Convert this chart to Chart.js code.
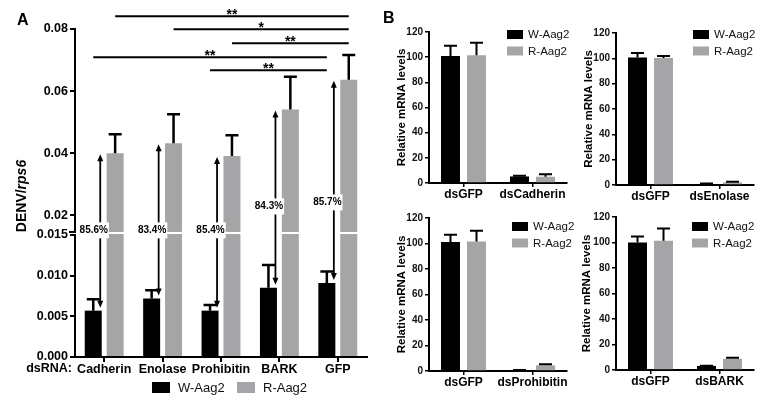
<!DOCTYPE html>
<html>
<head>
<meta charset="utf-8">
<script src="https://cdn.jsdelivr.net/npm/chart.js@4.4.0/dist/chart.umd.min.js"></script>
<style>
  html, body { margin: 0; padding: 0; background: #fff; }
  #wrap { position: relative; width: 767px; height: 405px; overflow: hidden; font-family: "Liberation Sans", Arial, sans-serif; }
  canvas { position: absolute; }
  .tag { position: absolute; font-weight: bold; font-size: 16px; color: #000; }
</style>
</head>
<body>
<div id="wrap">
  <canvas id="chartA" width="380" height="405" style="left:0;top:0"></canvas>
  <canvas id="chartCad" width="190" height="200" style="left:380px;top:0"></canvas>
  <canvas id="chartPro" width="200" height="205" style="left:380px;top:200px"></canvas>
  <canvas id="chartEno" width="197" height="200" style="left:570px;top:0"></canvas>
  <canvas id="chartBark" width="197" height="205" style="left:570px;top:200px"></canvas>
  <div class="tag" style="left:17px;top:11px">A</div>
  <div class="tag" style="left:383px;top:9px">B</div>
</div>
<script>
// panel A: DENV/rps6 after dsRNA knockdown
const genes = ["Cadherin", "Enolase", "Prohibitin", "BARK", "GFP"];
const wAag2 = [0.0057, 0.0072, 0.0057, 0.0085, 0.0091];
const wAag2Err = [0.0014, 0.0010, 0.0007, 0.0028, 0.0014];
const rAag2 = [0.0400, 0.0432, 0.0391, 0.0541, 0.0637];
const rAag2Err = [0.0061, 0.0094, 0.0067, 0.0105, 0.0079];
const reduction = ["85.6%", "83.4%", "85.4%", "84.3%", "85.7%"];
const reductionAt = [0.0152, 0.0152, 0.0152, 0.0229, 0.0242];
const lowTicks = [0, 0.005, 0.010, 0.015];
const highTicks = [0.02, 0.04, 0.06, 0.08];

// significance brackets above panel A
const sigFrom = [0, 1, 2, 0, 2];
const sigTo = [4, 4, 4, 4, 4];
const sigSeries = ["R", "R", "R", "W", "W"];
const sigLevel = [0.0841, 0.0799, 0.0754, 0.0709, 0.0667];
const sigMark = ["**", "*", "**", "**", "**"];

// panel B: relative mRNA levels
const mrnaTicks = [0, 20, 40, 60, 80, 100, 120];
const cadherinCats = ["dsGFP", "dsCadherin"];
const cadherinW = [101, 5.2];
const cadherinWErr = [8, 0.6];
const cadherinR = [101.5, 5.0];
const cadherinRErr = [10, 2];
const enolaseCats = ["dsGFP", "dsEnolase"];
const enolaseW = [100.6, 0.8];
const enolaseWErr = [3.7, 0.3];
const enolaseR = [100.3, 2.0];
const enolaseRErr = [1.6, 0.6];
const prohibitinCats = ["dsGFP", "dsProhibitin"];
const prohibitinW = [101.1, 0.6];
const prohibitinWErr = [5.7, 0.2];
const prohibitinR = [101.6, 4.5];
const prohibitinRErr = [8.4, 0.8];
const barkCats = ["dsGFP", "dsBARK"];
const barkW = [100.0, 3.2];
const barkWErr = [4.8, 0.2];
const barkR = [101.4, 8.8];
const barkRErr = [9.6, 0.8];

const BLACK = "#000000";
const GREY = "#a5a5a7";
const FONT = "'Liberation Sans', Arial, sans-serif";
const LOW_MAX = 0.015;

// upper error bars only, GraphPad style
const errorBars = {
  id: "errorBars",
  afterDatasetsDraw(chart, args, opts) {
    const ctx = chart.ctx;
    chart.data.datasets.forEach((ds, i) => {
      if (!ds.errors) return;
      const meta = chart.getDatasetMeta(i);
      const yScale = chart.scales[meta.yAxisID];
      ctx.save();
      ctx.strokeStyle = "#000";
      ctx.lineWidth = opts.width || 2.5;
      meta.data.forEach((bar, j) => {
        const top = yScale.getPixelForValue(ds.data[j] + ds.errors[j]);
        const half = opts.cap || 6.5;
        ctx.beginPath();
        ctx.moveTo(bar.x, bar.y);
        ctx.lineTo(bar.x, top);
        ctx.moveTo(bar.x - half, top);
        ctx.lineTo(bar.x + half, top);
        ctx.stroke();
      });
      ctx.restore();
    });
  }
};

// small box legend at a fixed spot in the canvas
const boxLegend = {
  id: "boxLegend",
  afterDraw(chart, args, opts) {
    const ctx = chart.ctx;
    const items = chart.data.datasets.filter(ds => ds.legend !== false);
    ctx.save();
    ctx.font = opts.font;
    ctx.textBaseline = "middle";
    items.forEach((ds, k) => {
      const x = opts.x + k * opts.dx;
      const y = opts.y + k * opts.dy;
      ctx.fillStyle = ds.backgroundColor;
      ctx.fillRect(x, y, opts.boxW, opts.boxH);
      ctx.fillStyle = "#111";
      ctx.fillText(ds.label, x + opts.boxW + opts.gap, y + opts.boxH / 2 + 0.5);
    });
    ctx.restore();
  }
};

// broken axis, arrows, brackets and titles for panel A
const panelA = {
  id: "panelA",
  afterDatasetsDraw(chart) {
    const { ctx, chartArea } = chart;
    const hi = chart.scales.yHigh;
    const top = hi.getPixelForValue(LOW_MAX) + 1;
    ctx.save();
    ctx.fillStyle = "#fff";
    ctx.fillRect(chartArea.left - 2, top, chartArea.right - chartArea.left + 2, hi.bottom - top - 1);
    ctx.strokeStyle = "#000";
    ctx.lineWidth = 2;
    ctx.beginPath();
    ctx.moveTo(chartArea.left - 6, top);
    ctx.lineTo(chartArea.left + 1, top);
    ctx.stroke();
    ctx.restore();
  },
  afterDraw(chart) {
    const { ctx, chartArea } = chart;
    const hi = chart.scales.yHigh;
    const lo = chart.scales.yLow;
    const wMeta = chart.getDatasetMeta(0);
    const rMeta = chart.getDatasetMeta(2);
    ctx.save();

    // double arrows from W to R with percent labels
    ctx.strokeStyle = "#000";
    ctx.fillStyle = "#000";
    ctx.lineWidth = 1.8;
    genes.forEach((g, i) => {
      const bar = wMeta.data[i];
      const x = bar.x + bar.width / 2 - 1.5;
      const yUp = hi.getPixelForValue(rAag2[i]) + 1;
      const yDown = lo.getPixelForValue(wAag2[i]) - 3;
      ctx.beginPath();
      ctx.moveTo(x, yUp + 6);
      ctx.lineTo(x, yDown - 6);
      ctx.stroke();
      ctx.beginPath();
      ctx.moveTo(x, yUp);
      ctx.lineTo(x - 3, yUp + 7);
      ctx.lineTo(x + 3, yUp + 7);
      ctx.closePath();
      ctx.fill();
      ctx.beginPath();
      ctx.moveTo(x, yDown);
      ctx.lineTo(x - 3, yDown - 7);
      ctx.lineTo(x + 3, yDown - 7);
      ctx.closePath();
      ctx.fill();

      const ly = hi.getPixelForValue(reductionAt[i]);
      const lx = bar.x + 0.5;
      ctx.font = "bold 10px " + FONT;
      const tw = ctx.measureText(reduction[i]).width;
      ctx.fillStyle = "#fff";
      ctx.fillRect(lx - tw / 2 - 1, ly - 8, tw + 2, 16);
      ctx.fillStyle = "#000";
      ctx.textAlign = "center";
      ctx.textBaseline = "middle";
      ctx.fillText(reduction[i], lx, ly);
    });

    // significance brackets
    ctx.lineWidth = 2;
    ctx.font = "bold 14px " + FONT;
    ctx.textAlign = "center";
    ctx.textBaseline = "alphabetic";
    sigLevel.forEach((lv, k) => {
      const meta = sigSeries[k] === "W" ? wMeta : rMeta;
      const x1 = meta.data[sigFrom[k]].x;
      const x2 = meta.data[sigTo[k]].x;
      const y = hi.getPixelForValue(lv);
      ctx.beginPath();
      ctx.moveTo(x1, y);
      ctx.lineTo(x2, y);
      ctx.stroke();
      ctx.fillText(sigMark[k], (x1 + x2) / 2, y + 2.5);
    });

    // y title with italic gene name
    ctx.translate(22, 196);
    ctx.rotate(-Math.PI / 2);
    ctx.textBaseline = "middle";
    ctx.textAlign = "left";
    const a = "DENV/", b = "rps6";
    ctx.font = "bold 14px " + FONT;
    const wa = ctx.measureText(a).width;
    ctx.font = "italic bold 14px " + FONT;
    const wb = ctx.measureText(b).width;
    ctx.font = "bold 14px " + FONT;
    ctx.fillText(a, -(wa + wb) / 2, 0);
    ctx.font = "italic bold 14px " + FONT;
    ctx.fillText(b, -(wa + wb) / 2 + wa, 0);
    ctx.setTransform(1, 0, 0, 1, 0, 0);

    // row caption for the x labels
    ctx.font = "bold 12.5px " + FONT;
    ctx.textAlign = "right";
    ctx.textBaseline = "top";
    ctx.fillText("dsRNA:", 72, chartArea.bottom + 5);
    ctx.restore();
  }
};

const tickFont = size => ({ family: FONT, size: size, weight: "bold" });

new Chart(document.getElementById("chartA"), {
  type: "bar",
  data: {
    labels: genes,
    datasets: [
      { label: "W-Aag2", data: wAag2, errors: wAag2Err, backgroundColor: BLACK, yAxisID: "yLow", stack: "W" },
      { label: "R-Aag2", data: rAag2.map(v => Math.min(v, LOW_MAX)), backgroundColor: GREY, yAxisID: "yLow", stack: "R", legend: false },
      { label: "R-Aag2", data: rAag2, errors: rAag2Err, backgroundColor: GREY, yAxisID: "yHigh", stack: "R" },
    ],
  },
  options: {
    responsive: false,
    animation: false,
    layout: { padding: { top: 29, right: 13, left: 0, bottom: 0 } },
    datasets: { bar: { categoryPercentage: 0.75, barPercentage: 0.776 } },
    plugins: {
      legend: { display: false },
      tooltip: { enabled: false },
      errorBars: { width: 2.5, cap: 6.5 },
      boxLegend: { x: 152, y: 382, dx: 85, dy: 0, boxW: 18, boxH: 11, gap: 8, font: "13px " + FONT },
    },
    scales: {
      x: {
        grid: { offset: false, drawOnChartArea: false, tickLength: 5, color: "#000", lineWidth: 2 },
        border: { color: "#000", width: 2 },
        ticks: { font: tickFont(12.5), color: "#000", padding: 0, autoSkip: false, maxRotation: 0 },
        afterFit: s => { s.height = 48; },
      },
      yLow: {
        type: "linear", position: "left", stack: "denv", stackWeight: 122, stacked: false,
        min: 0, max: LOW_MAX,
        afterBuildTicks: s => { s.ticks = lowTicks.map(v => ({ value: v })); },
        grid: { drawOnChartArea: false, tickLength: 5, color: "#000", lineWidth: 2 },
        border: { color: "#000", width: 2 },
        ticks: { font: tickFont(12.5), color: "#000", padding: 2, callback: v => v.toFixed(3) },
        afterFit: s => { s.width = 75; },
      },
      yHigh: {
        type: "linear", position: "left", stack: "denv", stackWeight: 206, stacked: false,
        min: 0.0137, max: 0.08,
        afterBuildTicks: s => { s.ticks = highTicks.map(v => ({ value: v })); },
        grid: { drawOnChartArea: false, tickLength: 5, color: "#000", lineWidth: 2 },
        border: { color: "#000", width: 2 },
        ticks: { font: tickFont(12.5), color: "#000", padding: 2, callback: v => v.toFixed(2) },
        afterFit: s => { s.width = 75; },
      },
    },
  },
  plugins: [errorBars, panelA, boxLegend],
});

function mrnaChart(id, cats, w, wErr, r, rErr, area, legendAt, titleGap) {
  const cv = document.getElementById(id);
  return new Chart(cv, {
    type: "bar",
    data: {
      labels: cats,
      datasets: [
        { label: "W-Aag2", data: w, errors: wErr, backgroundColor: BLACK },
        { label: "R-Aag2", data: r, errors: rErr, backgroundColor: GREY },
      ],
    },
    options: {
      responsive: false,
      animation: false,
      layout: { padding: { top: area.top, right: cv.width - area.right, left: 0, bottom: 0 } },
      datasets: { bar: { categoryPercentage: 0.754, barPercentage: 0.73 } },
      plugins: {
        legend: { display: false },
        tooltip: { enabled: false },
        errorBars: { width: 2, cap: 6.5 },
        boxLegend: { x: legendAt[0], y: legendAt[1], dx: 0, dy: 16.5, boxW: 16, boxH: 9, gap: 5, font: "11.5px " + FONT },
      },
      scales: {
        x: {
          grid: { offset: false, drawOnChartArea: false, tickLength: 4, color: "#000", lineWidth: 1.5 },
          border: { color: "#000", width: 2 },
          ticks: { font: tickFont(12), color: "#000", padding: 0, autoSkip: false, maxRotation: 0 },
          afterFit: s => { s.height = cv.height - area.bottom; },
        },
        y: {
          min: 0, max: 120,
          afterBuildTicks: s => { s.ticks = mrnaTicks.map(v => ({ value: v })); },
          grid: { drawOnChartArea: false, tickLength: 4, color: "#000", lineWidth: 1.5 },
          border: { color: "#000", width: 2 },
          ticks: { font: tickFont(10), color: "#111", padding: 2 },
          title: { display: true, text: "Relative mRNA levels", color: "#000", font: tickFont(11.5), padding: { top: titleGap, bottom: 0 } },
          afterFit: s => { s.width = area.left; },
        },
      },
    },
    plugins: [errorBars, boxLegend],
  });
}

mrnaChart("chartCad", cadherinCats, cadherinW, cadherinWErr, cadherinR, cadherinRErr,
  { left: 49, right: 187, top: 32, bottom: 183 }, [127, 30], 15);
mrnaChart("chartPro", prohibitinCats, prohibitinW, prohibitinWErr, prohibitinR, prohibitinRErr,
  { left: 49, right: 187, top: 18, bottom: 171 }, [132, 22], 15);
mrnaChart("chartEno", enolaseCats, enolaseW, enolaseWErr, enolaseR, enolaseRErr,
  { left: 46, right: 184, top: 33, bottom: 185 }, [123, 30], 12);
mrnaChart("chartBark", barkCats, barkW, barkWErr, barkR, barkRErr,
  { left: 46, right: 184, top: 17, bottom: 170 }, [122, 22], 10);
</script>
</body>
</html>
